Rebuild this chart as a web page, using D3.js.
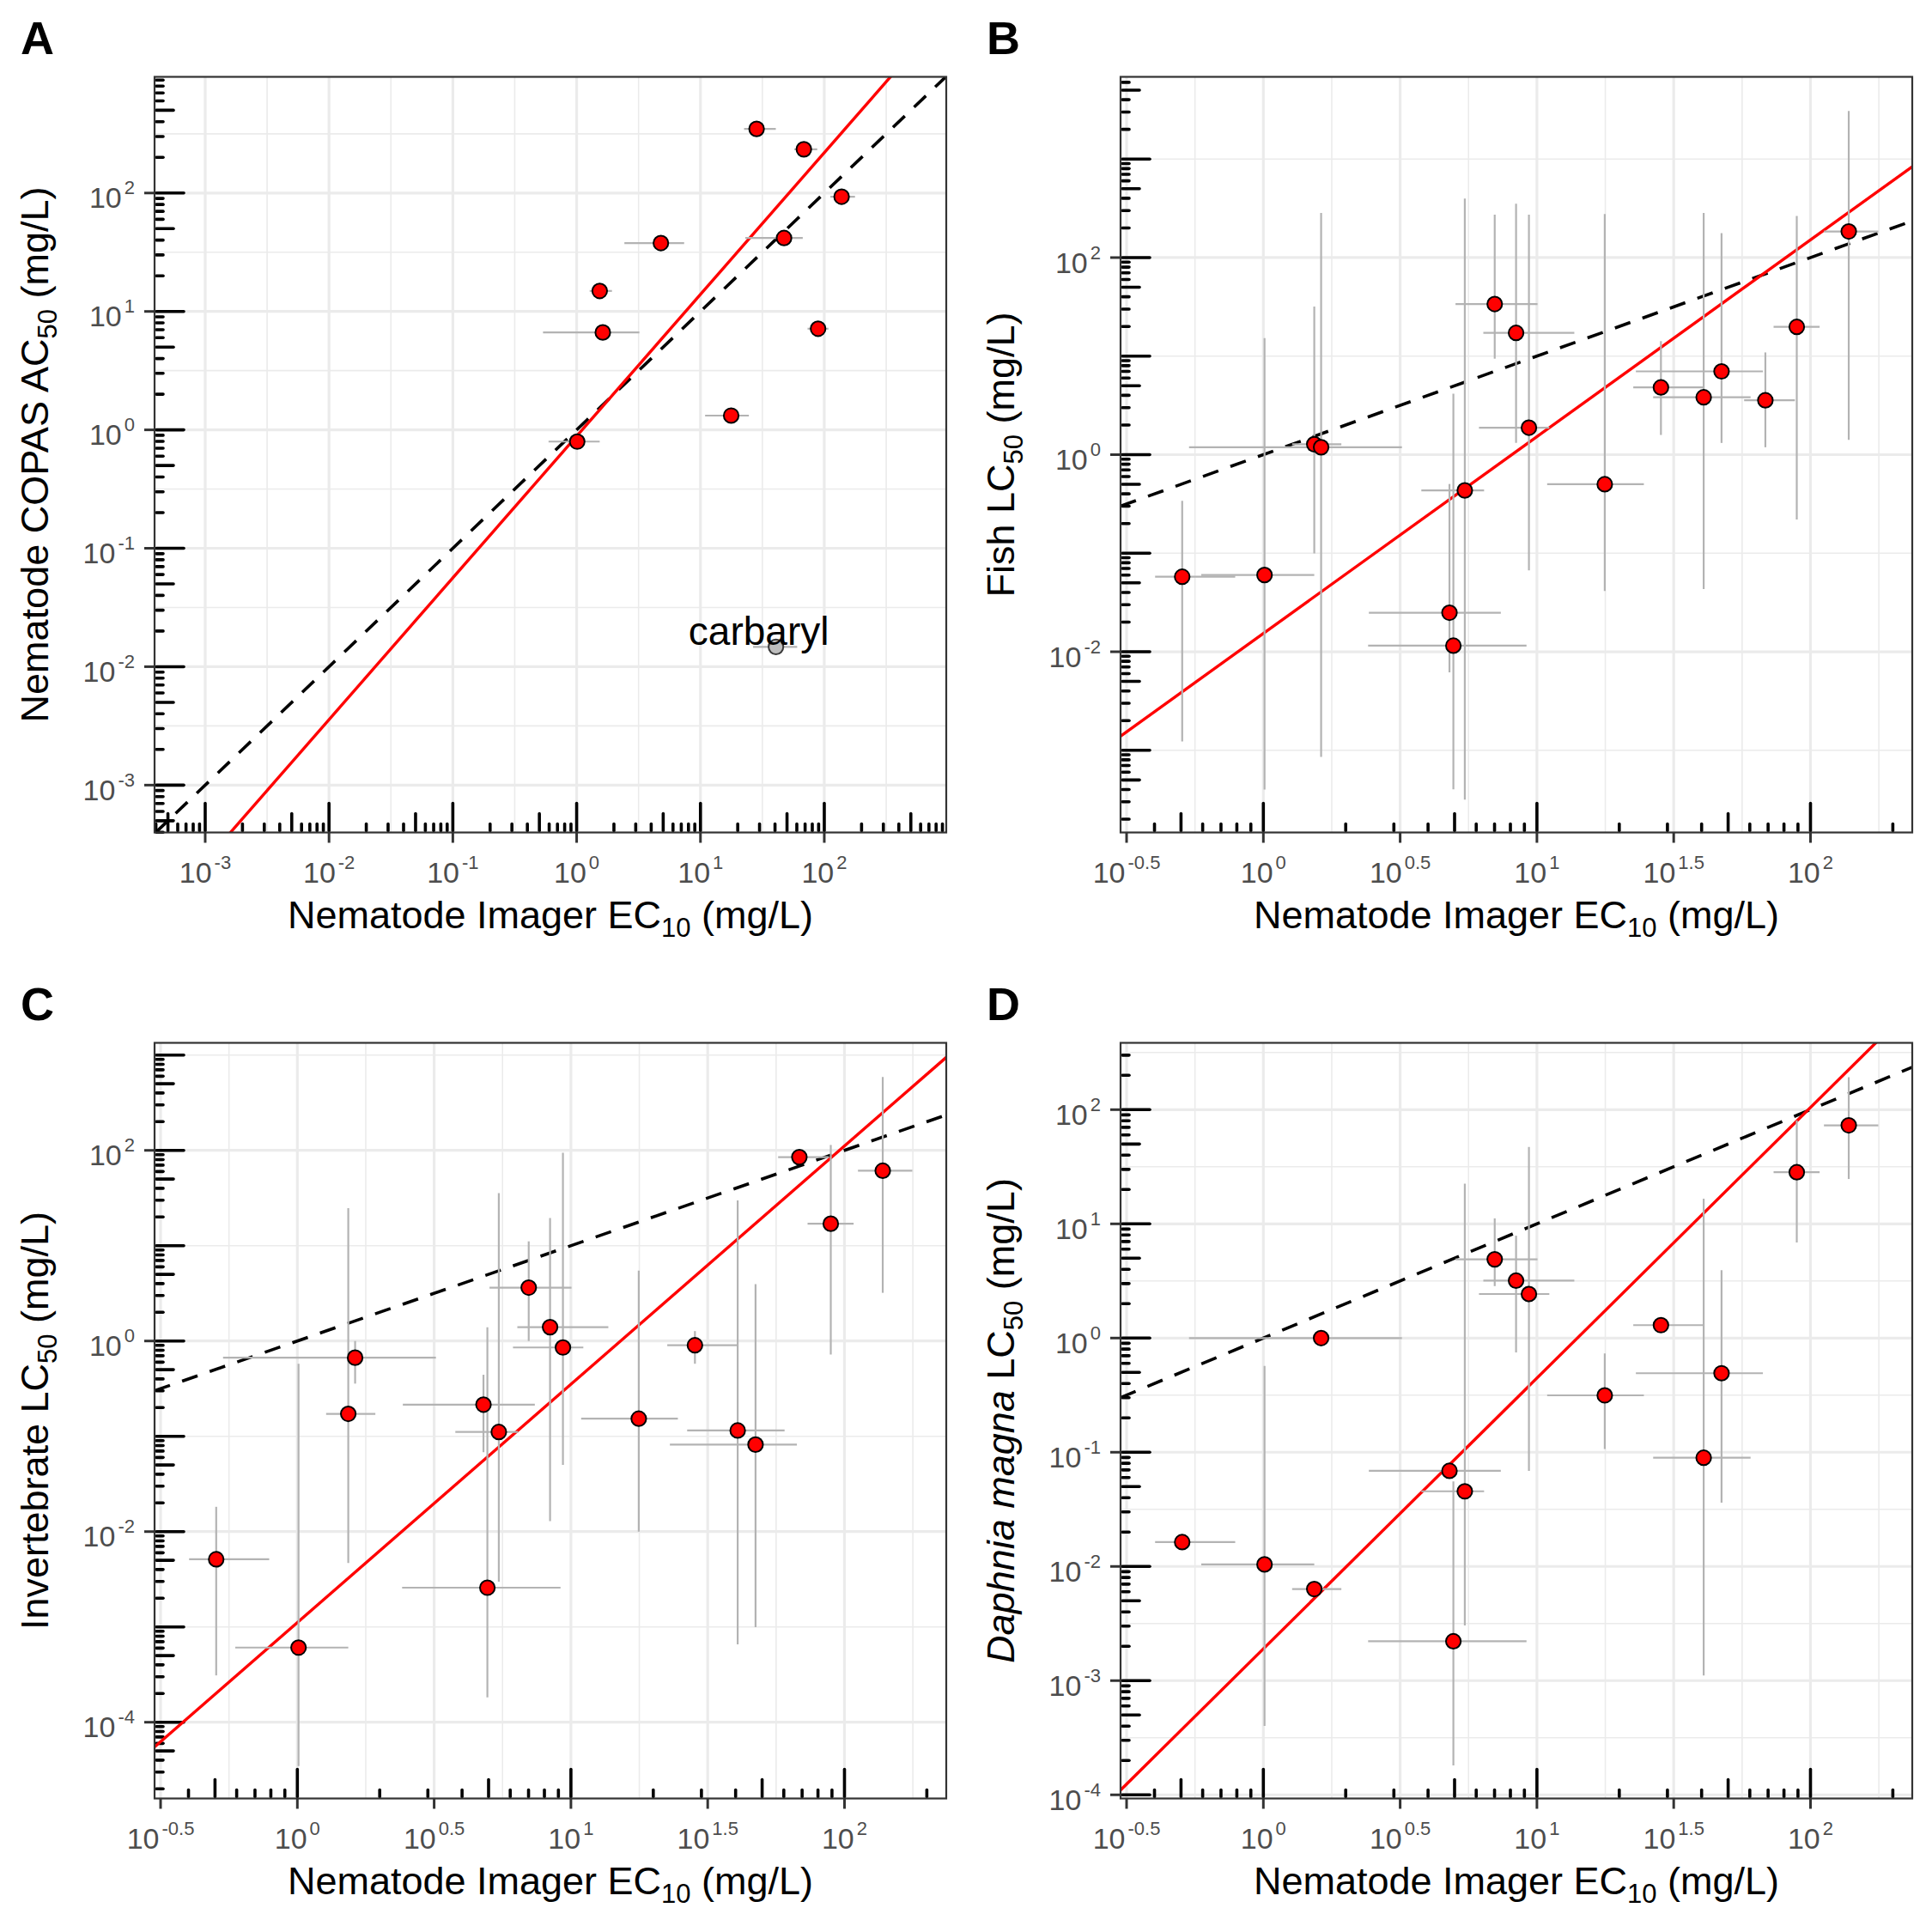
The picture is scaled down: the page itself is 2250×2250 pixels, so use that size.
<!DOCTYPE html>
<html>
<head>
<meta charset="utf-8">
<script src="https://cdn.jsdelivr.net/npm/d3@7"></script>
<style>
	body { margin: 0; background: #fff; }
	svg { font-family: "Liberation Sans", Arial, Helvetica, sans-serif; }
</style>
</head>
<body>
<div id="chart"></div>
<script>
// ---- values (mg/L) ----
// Nematode Imager EC10 of the 17 chemicals, with its lower / upper bound
var imagerEC10   = [0.505, 1.01, 1.535, 1.626, 4.79, 4.95, 5.45, 7.01, 8.39, 9.35, 17.7, 28.4, 40.7, 47.3, 68.4, 89.1, 138];
var imagerEC10Lo = [0.402, 0.593, 1.274, 0.535, 2.43, 2.415, 3.78, 5.04, 6.37, 6.14, 10.9, 22.5, 26.6, 23.0, 57.2, 73.3, 112];
var imagerEC10Hi = [0.789, 1.535, 1.928, 3.21, 7.38, 9.16, 6.41, 10.05, 13.7, 11.1, 24.6, 40.6, 60.4, 67.0, 87.7, 108, 177];

// panel A: Nematode COPAS AC50 (null = not tested)
var copasAC50 = [null, 0.796, 14.9, 6.65, 37.8, null, null, null, null, null, 1.32, 348, 0.0147, 41.7, 234, 7.15, 93.1];
// the one chemical shown in grey and named in panel A
var outlierIndex = 12;
var outlierName = "carbaryl";

// panel B: fish LC50 with its range
var fishLC50   = [0.0577, 0.0601, 1.276, 1.189, 0.0249, 0.01153, 0.434, 33.8, 17.2, 1.879, 0.501, 4.81, 3.82, 7.0, 3.56, 19.8, 184];
var fishLC50Lo = [0.00123, 0.000399, 0.0995, 0.000857, 0.00617, 0.000401, 0.000316, 9.42, 1.315, 0.0671, 0.0414, 1.585, 0.0432, 1.315, 1.189, 0.220, 1.413];
var fishLC50Hi = [0.340, 15.2, 31.8, 284, 0.504, 4.16, 398, 273, 352, 273, 276, 14.2, 284, 177, 10.9, 265, 3070];

// panel C: invertebrate LC50 with its range
var invertLC50   = [0.00512, 0.000607, 0.172, 0.668, 0.215, 0.00258, 0.111, 3.63, 1.396, 0.855, 0.153, 0.902, 0.115, 0.0818, 84.9, 17.0, 61.1];
var invertLC50Lo = [0.000310, 0.0000347, 0.00468, 0.357, 0.0681, 0.000182, 0.00299, 1.0, 0.0129, 0.050, 0.010, 0.577, 0.000655, 0.000993, null, 0.721, 3.2];
var invertLC50Hi = [0.0182, 0.577, 24.7, 1.0, 0.442, 1.39, 35.6, 11.1, 19.5, 94.2, 5.47, 1.27, 29.9, 3.94, null, 114, 589];

// panel D: Daphnia magna LC50 with its range
var daphniaLC50   = [0.01633, 0.01042, 0.00634, 1.0, 0.0687, 0.00221, 0.0455, 4.89, 3.18, 2.43, 0.315, 1.297, 0.0895, 0.492, null, 28.3, 72.9];
var daphniaLC50Lo = [null, 0.000402, null, null, null, 0.000181, 0.00304, 2.85, 0.748, 0.0687, 0.1067, null, 0.00111, 0.0361, null, 6.87, 24.7];
var daphniaLC50Hi = [null, 0.571, null, null, null, 0.0555, 22.5, 11.17, 7.87, 47.2, 0.733, null, 16.6, 3.93, null, 80.5, 192];

// red regression lines, log10(y) = intercept + slope * log10(x)
var fitIntercept = [-0.053, -1.814, -2.954, -2.721];
var fitSlope     = [1.197, 1.997, 2.5, 2.37];

// axis breaks as powers of ten (tick labels 10^b)
var xBreaksA   = [-3, -2, -1, 0, 1, 2];
var xBreaksBCD = [-0.5, 0, 0.5, 1, 1.5, 2];
var yBreaksA = [-3, -2, -1, 0, 1, 2];
var yBreaksB = [-2, 0, 2];
var yBreaksC = [-4, -2, 0, 2];
var yBreaksD = [-4, -3, -2, -1, 0, 1, 2];

// ---- layout ----
var plotW = 922, plotH = 880;

var svg = d3.select("#chart")
	.append("svg")
	.attr("width", 2250)
	.attr("height", 2250)
	.style("background", "#fff");

function powTen(e) { return Math.pow(10, e); }

// minor grid lines sit halfway between breaks
function minorBreaks(breaks, lim) {
	var step = breaks[1] - breaks[0], out = [];
	for (var v = breaks[0] - step * 10.5; v <= lim[1]; v += step) {
		if (v >= lim[0]) out.push(v);
	}
	return out;
}

// annotation_logticks: 1..9 x 10^k, long at 1, mid at 5
function logTicks(lim) {
	var out = [];
	for (var k = Math.floor(lim[0]); k <= Math.ceil(lim[1]); k++) {
		for (var m = 1; m <= 9; m++) {
			var lv = k + Math.log10(m);
			if (lv >= lim[0] && lv <= lim[1]) out.push({v: powTen(lv), len: m === 1 ? 34 : (m === 5 ? 22 : 10)});
		}
	}
	return out;
}

function powerLabel(sel, b) {
	sel.append("tspan").text("10");
	sel.append("tspan").attr("font-size", 22).attr("dx", 3).attr("dy", -16).text(String(b));
}

function drawPanel(p) {
	var g = svg.append("g").attr("transform", "translate(" + p.left + "," + p.top + ")");

	var x = d3.scaleLog().domain([powTen(p.xLim[0]), powTen(p.xLim[1])]).range([0, plotW]);
	var y = d3.scaleLog().domain([powTen(p.yLim[0]), powTen(p.yLim[1])]).range([plotH, 0]);

	g.append("clipPath").attr("id", "clip" + p.letter)
		.append("rect").attr("width", plotW).attr("height", plotH);

	// grid
	var grid = g.append("g");
	grid.selectAll(".vminor").data(minorBreaks(p.xBreaks, p.xLim)).enter().append("line")
		.attr("x1", function(d) { return x(powTen(d)); }).attr("x2", function(d) { return x(powTen(d)); })
		.attr("y1", 0).attr("y2", plotH)
		.style("stroke", "#ebebeb").style("stroke-width", 1.6);
	grid.selectAll(".hminor").data(minorBreaks(p.yBreaks, p.yLim)).enter().append("line")
		.attr("y1", function(d) { return y(powTen(d)); }).attr("y2", function(d) { return y(powTen(d)); })
		.attr("x1", 0).attr("x2", plotW)
		.style("stroke", "#ebebeb").style("stroke-width", 1.6);
	grid.selectAll(".vmajor").data(p.xBreaks).enter().append("line")
		.attr("x1", function(d) { return x(powTen(d)); }).attr("x2", function(d) { return x(powTen(d)); })
		.attr("y1", 0).attr("y2", plotH)
		.style("stroke", "#ebebeb").style("stroke-width", 3.2);
	grid.selectAll(".hmajor").data(p.yBreaks).enter().append("line")
		.attr("y1", function(d) { return y(powTen(d)); }).attr("y2", function(d) { return y(powTen(d)); })
		.attr("x1", 0).attr("x2", plotW)
		.style("stroke", "#ebebeb").style("stroke-width", 3.2);

	// log ticks along the left and bottom edges
	g.selectAll(".lty").data(logTicks(p.yLim)).enter().append("line")
		.attr("x1", 2).attr("x2", function(d) { return d.len; })
		.attr("y1", function(d) { return y(d.v); }).attr("y2", function(d) { return y(d.v); })
		.style("stroke", "#000").style("stroke-width", 3.6).style("stroke-linecap", "round");
	g.selectAll(".ltx").data(logTicks(p.xLim)).enter().append("line")
		.attr("y1", plotH - 2).attr("y2", function(d) { return plotH - d.len; })
		.attr("x1", function(d) { return x(d.v); }).attr("x2", function(d) { return x(d.v); })
		.style("stroke", "#000").style("stroke-width", 3.6).style("stroke-linecap", "round");

	var clipped = g.append("g").attr("clip-path", "url(#clip" + p.letter + ")");
	var ends = [powTen(p.xLim[0]), powTen(p.xLim[1])];

	// 1:1 line
	clipped.append("path")
		.attr("d", d3.line()(ends.map(function(v) { return [x(v), y(v)]; })))
		.style("fill", "none").style("stroke", "#000").style("stroke-width", 3.6)
		.style("stroke-dasharray", "19,15");

	// regression line
	clipped.append("path")
		.attr("d", d3.line()(ends.map(function(v) {
			return [x(v), y(powTen(p.intercept + p.slope * Math.log10(v)))];
		})))
		.style("fill", "none").style("stroke", "#ff0000").style("stroke-width", 3.4);

	var idx = d3.range(imagerEC10.length).filter(function(i) { return p.yv[i] != null; });

	// error bars
	clipped.selectAll(".hbar").data(idx).enter().append("line")
		.attr("x1", function(i) { return x(imagerEC10Lo[i]); })
		.attr("x2", function(i) { return x(imagerEC10Hi[i]); })
		.attr("y1", function(i) { return y(p.yv[i]); }).attr("y2", function(i) { return y(p.yv[i]); })
		.style("stroke", "#b3b3b3").style("stroke-width", 2.2);
	if (p.ylo) {
		clipped.selectAll(".vbar").data(idx.filter(function(i) { return p.ylo[i] != null; })).enter().append("line")
			.attr("x1", function(i) { return x(imagerEC10[i]); }).attr("x2", function(i) { return x(imagerEC10[i]); })
			.attr("y1", function(i) { return y(p.ylo[i]); }).attr("y2", function(i) { return y(p.yhi[i]); })
			.style("stroke", "#b3b3b3").style("stroke-width", 2.2);
	}

	// points
	g.selectAll(".pt").data(idx).enter().append("circle")
		.attr("cx", function(i) { return x(imagerEC10[i]); })
		.attr("cy", function(i) { return y(p.yv[i]); })
		.attr("r", 8.6)
		.style("fill", function(i) { return (p.outlier && i === outlierIndex) ? "#bebebe" : "#ff0000"; })
		.style("stroke", function(i) { return (p.outlier && i === outlierIndex) ? "#3a3a3a" : "#000"; })
		.style("stroke-width", 2);

	if (p.outlier) {
		g.append("text")
			.attr("x", x(imagerEC10[outlierIndex]) - 20)
			.attr("y", y(p.yv[outlierIndex]) - 2)
			.attr("text-anchor", "middle")
			.attr("font-size", 46)
			.style("fill", "#000")
			.text(outlierName);
	}

	// border
	g.append("rect").attr("width", plotW).attr("height", plotH)
		.style("fill", "none").style("stroke", "#333").style("stroke-width", 2.2);

	// axis ticks outside + labels
	g.selectAll(".xt").data(p.xBreaks).enter().append("line")
		.attr("x1", function(d) { return x(powTen(d)); }).attr("x2", function(d) { return x(powTen(d)); })
		.attr("y1", plotH).attr("y2", plotH + 12)
		.style("stroke", "#333").style("stroke-width", 3);
	g.selectAll(".yt").data(p.yBreaks).enter().append("line")
		.attr("y1", function(d) { return y(powTen(d)); }).attr("y2", function(d) { return y(powTen(d)); })
		.attr("x1", -12).attr("x2", 0)
		.style("stroke", "#333").style("stroke-width", 3);

	g.selectAll(".xl").data(p.xBreaks).enter().append("text")
		.attr("x", function(d) { return x(powTen(d)); })
		.attr("y", plotH + 58)
		.attr("text-anchor", "middle")
		.attr("font-size", 34)
		.style("fill", "#4d4d4d")
		.each(function(d) { powerLabel(d3.select(this), d); });
	g.selectAll(".yl").data(p.yBreaks).enter().append("text")
		.attr("x", -23)
		.attr("y", function(d) { return y(powTen(d)) + 17.6; })
		.attr("text-anchor", "end")
		.attr("font-size", 34)
		.style("fill", "#4d4d4d")
		.each(function(d) { powerLabel(d3.select(this), d); });

	// axis titles
	var xt = g.append("text")
		.attr("x", plotW / 2).attr("y", plotH + 111)
		.attr("text-anchor", "middle").attr("font-size", 45).style("fill", "#000");
	xt.append("tspan").text("Nematode Imager EC");
	xt.append("tspan").attr("font-size", 31).attr("dy", 10).text("10");
	xt.append("tspan").attr("dy", -10).text(" (mg/L)");

	var yt = g.append("text")
		.attr("transform", "translate(-124," + (plotH / 2) + ") rotate(-90)")
		.attr("text-anchor", "middle").attr("font-size", 45).style("fill", "#000");
	if (p.italic) yt.append("tspan").style("font-style", "italic").text(p.italic);
	yt.append("tspan").text(p.yTitle);
	yt.append("tspan").attr("font-size", 31).attr("dy", 10).text("50");
	yt.append("tspan").attr("dy", -10).text(" (mg/L)");

	// panel letter
	svg.append("text")
		.attr("x", p.left - 156).attr("y", p.top - 26.5)
		.attr("font-size", 54).attr("font-weight", "bold").style("fill", "#000")
		.text(p.letter);
}

var panels = [
	{letter: "A", left: 180, top: 89.5, xLim: [-3.409, 2.985], yLim: [-3.40, 2.981],
		xBreaks: xBreaksA, yBreaks: yBreaksA, yv: copasAC50, ylo: null, yhi: null,
		intercept: fitIntercept[0], slope: fitSlope[0], yTitle: "Nematode COPAS AC", outlier: true},
	{letter: "B", left: 1305, top: 89.5, xLim: [-0.522, 2.372], yLim: [-3.834, 3.834],
		xBreaks: xBreaksBCD, yBreaks: yBreaksB, yv: fishLC50, ylo: fishLC50Lo, yhi: fishLC50Hi,
		intercept: fitIntercept[1], slope: fitSlope[1], yTitle: "Fish LC"},
	{letter: "C", left: 180, top: 1214.5, xLim: [-0.522, 2.372], yLim: [-4.80, 3.128],
		xBreaks: xBreaksBCD, yBreaks: yBreaksC, yv: invertLC50, ylo: invertLC50Lo, yhi: invertLC50Hi,
		intercept: fitIntercept[2], slope: fitSlope[2], yTitle: "Invertebrate LC"},
	{letter: "D", left: 1305, top: 1214.5, xLim: [-0.522, 2.372], yLim: [-4.032, 2.585],
		xBreaks: xBreaksBCD, yBreaks: yBreaksD, yv: daphniaLC50, ylo: daphniaLC50Lo, yhi: daphniaLC50Hi,
		intercept: fitIntercept[3], slope: fitSlope[3], italic: "Daphnia magna", yTitle: " LC"}
];

panels.forEach(drawPanel);
</script>
</body>
</html>
